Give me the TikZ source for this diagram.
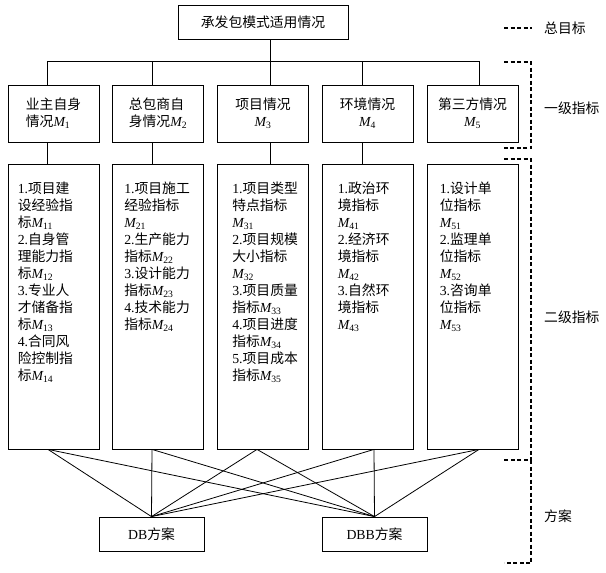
\documentclass[tikz,border=0pt]{standalone}
\usepackage{fontspec}
\setmainfont{Noto Sans CJK SC}
\newfontfamily\lat{Liberation Serif}
\newcommand{\Mx}[1]{{\lat\itshape M}\textsubscript{\lat #1}}
\newcommand{\itm}[1]{{\lat #1.}}

\tikzstyle{box}=[draw,line width=0.8pt,inner sep=0pt,font=\fontsize{13.8}{17}\selectfont]
\tikzstyle{first}=[box,minimum width=91pt,minimum height=57pt]
\tikzstyle{second}=[box,minimum width=91pt,minimum height=285pt]
\tikzstyle{plan}=[box,minimum width=105pt,minimum height=34pt]
\tikzstyle{items}=[anchor=north west,inner sep=0pt,align=left,font=\fontsize{13.8}{17}\selectfont]
\tikzstyle{level}=[anchor=west,inner sep=0pt,font=\fontsize{13.8}{17}\selectfont]
\tikzstyle{bracket}=[line width=1.6pt,dash pattern=on 4pt off 2.5pt]

\begin{document}
\begin{tikzpicture}[x=1pt,y=-1pt]
        \useasboundingbox (0,0) rectangle (606,573);
        % goal
        \node[box,minimum width=170pt,minimum height=34pt] (top) at (263,22) {承发包模式适用情况};
        % first level
        \node[first,align=left] (m1) at (53.5,113.5) {业主自身\\情况\Mx{1}};
        \node[first,align=left] (m2) at (158,113.5) {总包商自\\身情况\Mx{2}};
        \node[first,align=center] (m3) at (263,113.5) {项目情况\\\Mx{3}};
        \node[first,align=center] (m4) at (367.5,113.5) {环境情况\\\Mx{4}};
        \node[first,align=center] (m5) at (472.5,113.5) {第三方情况\\\Mx{5}};
        % second level
        \node[second] (s1) at (53.5,306.5) {};
        \node[second] (s2) at (158,306.5) {};
        \node[second] (s3) at (263,306.5) {};
        \node[second] (s4) at (367.5,306.5) {};
        \node[second] (s5) at (472.5,306.5) {};
        \node[items] (t1) at ([shift={(10,18)}]s1.north west) {\itm{1}项目建\\设经验指\\标\Mx{11}\\\itm{2}自身管\\理能力指\\标\Mx{12}\\\itm{3}专业人\\才储备指\\标\Mx{13}\\\itm{4}合同风\\险控制指\\标\Mx{14}};
        \node[items] (t2) at ([shift={(12,18)}]s2.north west) {\itm{1}项目施工\\经验指标\\\Mx{21}\\\itm{2}生产能力\\指标\Mx{22}\\\itm{3}设计能力\\指标\Mx{23}\\\itm{4}技术能力\\指标\Mx{24}};
        \node[items] (t3) at ([shift={(15,18)}]s3.north west) {\itm{1}项目类型\\特点指标\\\Mx{31}\\\itm{2}项目规模\\大小指标\\\Mx{32}\\\itm{3}项目质量\\指标\Mx{33}\\\itm{4}项目进度\\指标\Mx{34}\\\itm{5}项目成本\\指标\Mx{35}};
        \node[items] (t4) at ([shift={(16,18)}]s4.north west) {\itm{1}政治环\\境指标\\\Mx{41}\\\itm{2}经济环\\境指标\\\Mx{42}\\\itm{3}自然环\\境指标\\\Mx{43}};
        \node[items] (t5) at ([shift={(13,18)}]s5.north west) {\itm{1}设计单\\位指标\\\Mx{51}\\\itm{2}监理单\\位指标\\\Mx{52}\\\itm{3}咨询单\\位指标\\\Mx{53}};
        % plans
        \node[plan] (db) at (151.5,534) {{\lat DB}方案};
        \node[plan] (dbb) at (374.5,534) {{\lat DBB}方案};
        % tree
        \draw[line width=0.8pt] ([xshift=7pt]top.south) -- ([xshift=7pt]m3.north);
        \draw[line width=0.8pt] ([xshift=-6.5pt]m1.north) -- ++(0,-23) -| ([xshift=6.5pt]m5.north);
        \draw[line width=0.8pt] ([xshift=-6pt]m2.north) -- ++(0,-23);
        \draw[line width=0.8pt] ([xshift=-5.5pt]m4.north) -- ++(0,-23);
        \draw[line width=0.8pt] ([xshift=-6.5pt]m1.south) -- ([xshift=-6.5pt]s1.north);
        \draw[line width=0.8pt] ([xshift=-6pt]m2.south) -- ([xshift=-6pt]s2.north);
        \draw[line width=0.8pt] ([xshift=7pt]m3.south) -- ([xshift=7pt]s3.north);
        \draw[line width=0.8pt] ([xshift=-5.5pt]m4.south) -- ([xshift=-5.5pt]s4.north);
        \foreach \s/\d in {s1/-5.5,s2/-6,s3/-6,s4/6.5,s5/6.5} {
            \draw[line width=0.8pt] ([xshift=\d pt]\s.south) -- (db.north);
            \draw[line width=0.8pt] ([xshift=\d pt]\s.south) -- (dbb.north);
        }
        % levels
        \draw[bracket] (504,28) -- (532,28);
        \node[level] (l0) at (544,28) {总目标};
        \draw[bracket] (504,62) -- (531,62) -- (531,148) -- (503,148);
        \node[level] (l1) at (544,108) {一级指标};
        \draw[bracket] (504,159) -- (531,159) -- (531,460) -- (504,460);
        \node[level] (l2) at (544,317) {二级指标};
        \draw[bracket] (531,460) -- (531,563) -- (504,563);
        \node[level] (l3) at (544,516) {方案};
    \end{tikzpicture}
\end{document}
